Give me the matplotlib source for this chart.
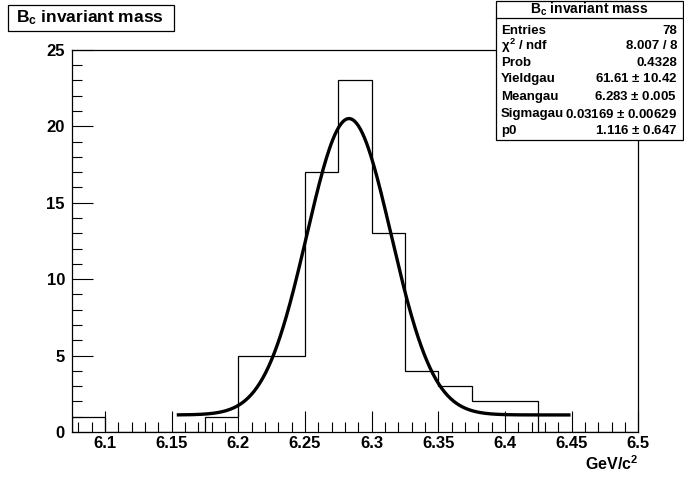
import numpy as np
import matplotlib.pyplot as plt
from matplotlib.ticker import MultipleLocator, FuncFormatter

plt.rcParams['font.family'] = ['Liberation Sans', 'DejaVu Sans']
plt.rcParams['font.weight'] = 'bold'
plt.rcParams['mathtext.fontset'] = 'custom'
plt.rcParams['mathtext.rm'] = 'Liberation Sans:bold'
plt.rcParams['mathtext.it'] = 'Liberation Sans:bold'
plt.rcParams['mathtext.bf'] = 'Liberation Sans:bold'

# histogram contents (bin width 0.025 GeV/c^2)
bin_edges = [6.075, 6.100, 6.125, 6.150, 6.175, 6.200, 6.225, 6.250,
             6.275, 6.300, 6.325, 6.350, 6.375, 6.400, 6.425, 6.450, 6.475, 6.500]
counts = [1, 0, 0, 0, 1, 5, 5, 17, 23, 13, 4, 3, 2, 2, 0, 0, 0]

# fit result (gaussian + constant)
yield_gau = 61.61
mean_gau = 6.283
sigma_gau = 0.03169
p0 = 1.116
fit_range = (6.155, 6.448)
bin_width = 0.025

# stats box text
stat_labels = ['Entries', r'$\chi^2$ / ndf', 'Prob', 'Yieldgau', 'Meangau', 'Sigmagau', 'p0']
stat_values = ['78', '8.007 / 8', '0.4328', r'61.61 $\pm$ 10.42', r'6.283 $\pm$ 0.005',
               r'0.03169 $\pm$ 0.00629', r'1.116 $\pm$ 0.647']

fig = plt.figure(figsize=(6.84, 4.8), dpi=100)
ax = fig.add_axes([0.105, 0.1, 0.828, 0.796])

ax.stairs(counts, bin_edges, color='black', linewidth=0.9)

xf = np.linspace(fit_range[0], fit_range[1], 400)
yf = p0 + yield_gau * bin_width / (np.sqrt(2 * np.pi) * sigma_gau) * \
    np.exp(-0.5 * ((xf - mean_gau) / sigma_gau) ** 2)
ax.plot(xf, yf, color='black', linewidth=2.4)

ax.set_xlim(6.075, 6.5)
ax.set_ylim(0, 25)
ax.xaxis.set_major_locator(MultipleLocator(0.05))
ax.xaxis.set_minor_locator(MultipleLocator(0.01))
ax.yaxis.set_major_locator(MultipleLocator(5))
ax.yaxis.set_minor_locator(MultipleLocator(1))
ax.xaxis.set_major_formatter(FuncFormatter(lambda v, p: ('%.2f' % v).rstrip('0')))
ax.tick_params(which='major', direction='in', length=15, width=0.8, labelsize=12,
               top=False, right=False)
ax.tick_params(which='minor', direction='in', length=7, width=0.8, top=False, right=False)
ax.tick_params(axis='x', pad=3)
ax.tick_params(axis='y', pad=5)
for s in ax.spines.values():
    s.set_linewidth(0.9)
ax.text(1.0, -0.058, r'GeV/c$^{2}$', transform=ax.transAxes, ha='right', va='top',
        fontsize=11.5)

# title box
fig.patches.append(plt.Rectangle((8 / 684, 1 - 31 / 480), 166 / 684, 26 / 480,
                                 transform=fig.transFigure, fc='white', ec='black', lw=0.9))
fig.text(90 / 684, 1 - 18 / 480, r'B$_{\mathregular{c}}$ invariant mass', fontsize=12.5,
         va='center', ha='center')

# stats box
bx0, bx1 = 496 / 684, 683 / 684
by0, by1 = 1 - 140 / 480, 1 - 1 / 480
fig.patches.append(plt.Rectangle((bx0, by0), bx1 - bx0, by1 - by0, transform=fig.transFigure,
                                 fc='white', ec='black', lw=0.9, zorder=5))
fig.lines.append(plt.Line2D([bx0, bx1], [1 - 18 / 480] * 2, transform=fig.transFigure,
                            color='black', lw=0.9, zorder=6))
fig.text((bx0 + bx1) / 2, 1 - 9 / 480, r'B$_{\mathregular{c}}$ invariant mass', ha='center',
         va='center', fontsize=10, zorder=7)
row_y = [31, 46, 63, 79, 97, 114, 131]
for lab, val, yy in zip(stat_labels, stat_values, row_y):
    fig.text(501 / 684, 1 - yy / 480, lab, ha='left', va='center', fontsize=9.5, zorder=7)
    fig.text(677 / 684, 1 - yy / 480, val, ha='right', va='center', fontsize=9.5, zorder=7)

fig.savefig('out.png', dpi=100)
